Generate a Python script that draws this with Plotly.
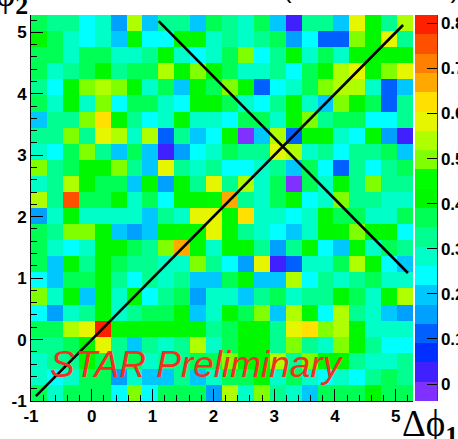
import numpy as np
import plotly.graph_objects as go

# ---------------- data ----------------
TWO_PI = 2 * np.pi
N_BINS = 24
AXIS_MIN = -1.0
AXIS_MAX = AXIS_MIN + TWO_PI
BIN_W = TWO_PI / N_BINS

# correlation values, rows listed from top (dphi2 ~ 5.1) to bottom (dphi2 ~ -0.9)
rows_top_to_bottom = [
    [.37, .33, .33, .24, .28, .15, .54, .20, .33, .33, .20, .37, .33, .28, .37, .20, .03, .33, .33, .20, .58, .41, .33, .54],
    [.41, .37, .28, .24, .28, .20, .41, .24, .24, .41, .41, .28, .33, .28, .33, .37, .15, .24, .11, .11, .50, .41, .58, .33],
    [.37, .37, .28, .37, .37, .28, .28, .33, .41, .28, .24, .28, .37, .50, .24, .33, .41, .28, .37, .28, .41, .41, .41, .41],
    [.37, .28, .33, .37, .41, .33, .37, .37, .54, .41, .50, .41, .37, .28, .28, .33, .24, .37, .41, .54, .58, .41, .50, .58],
    [.33, .24, .41, .50, .54, .50, .41, .28, .37, .20, .41, .37, .50, .41, .11, .24, .28, .37, .50, .54, .54, .28, .11, .20],
    [.37, .28, .41, .28, .50, .24, .37, .37, .28, .24, .41, .41, .37, .28, .24, .33, .41, .28, .20, .50, .41, .37, .11, .33],
    [.20, .33, .33, .50, .62, .41, .33, .24, .28, .41, .28, .28, .24, .37, .37, .28, .41, .50, .33, .37, .37, .24, .24, .33],
    [.33, .33, .50, .33, .58, .54, .28, .54, .11, .33, .20, .24, .41, -.02, .20, .54, .11, .41, .41, .28, .24, .41, .15, .03],
    [.28, .24, .37, .50, .33, .20, .37, .20, .03, .15, .24, .28, .37, .33, .33, .58, .54, .28, .33, .24, .33, .33, .37, .20],
    [.50, .33, .37, .41, .41, .50, .33, .20, .58, .33, .28, .33, .24, .24, .28, .33, .20, .37, .24, .11, .33, .24, .33, .37],
    [.28, .33, .54, .41, .37, .37, .20, .41, .15, .41, .33, .58, .33, .54, .28, .37, -.02, .37, .28, .41, .33, .50, .33, .33],
    [.54, .33, .75, .37, .37, .41, .28, .37, .24, .41, .41, .41, .67, .33, .28, .37, .41, .24, .28, .50, .33, .33, .28, .28],
    [.15, .28, .41, .28, .28, .28, .28, .20, .33, .28, .58, .58, .41, .62, .28, .28, .24, .28, .41, .37, .37, .28, .28, .37],
    [.37, .33, .50, .50, .41, .20, .15, .20, .41, .41, .41, .58, .41, .33, .28, .24, .20, .28, .41, .41, .50, .41, .41, .24],
    [.37, .28, .24, .28, .41, .41, .37, .33, .50, .67, .41, .28, .41, .41, .33, .15, .33, .41, .24, .20, .41, .28, .37, .33],
    [.37, .20, .41, .33, .41, .37, .33, .33, .28, .28, .50, .33, .24, .15, .58, .03, .11, .28, .28, .37, .54, .41, .24, .20],
    [.24, .20, .37, .37, .41, .33, .24, .33, .28, .33, .20, .20, .37, .41, .20, .20, .54, .24, .33, .28, .33, .37, .28, .28],
    [.50, .28, .41, .20, .41, .28, .41, .24, .33, .37, .15, .28, .28, .20, .33, .37, .28, .33, .33, .41, .37, .28, .41, .54],
    [.24, .15, .28, .33, .41, .28, .33, .37, .37, .41, .20, .28, .41, .37, .50, .20, .54, .41, .24, .54, .33, .28, .20, .15],
    [.37, .37, .54, .58, .80, .41, .41, .41, .41, .41, .41, .33, .37, .41, .41, .33, .58, .62, .50, .54, .41, .28, .28, .28],
    [.33, .33, .37, .41, .58, .33, .20, .33, .28, .33, .54, .28, .37, .41, .41, .33, .50, .33, .28, .50, .41, .33, .24, .24],
    [.28, .33, .33, .41, .37, .33, .37, .28, .33, .33, .37, .37, .50, .41, .41, .54, .33, .50, .41, .41, .33, .28, .28, .33],
    [.28, .24, .28, .37, .37, .15, .28, .20, .20, .33, .20, .28, .37, .37, .41, .28, .37, .28, .24, .28, .24, .33, .37, .33],
    [.37, .28, .37, .37, .37, .24, .50, .24, .37, .37, .37, .15, .54, .28, .50, .33, .28, .20, .37, .37, .37, .41, .37, .37],
]

Z_MIN = -0.0377
Z_MAX = 0.8184

# palette bands, bottom to top
band_colors = [
    "#8030FF", "#4020FF", "#0030FF", "#0060FF", "#00A0FF",
    "#00C8FF", "#00FFFF", "#00FFC8", "#00FF90", "#00FF55",
    "#00F800", "#00FF00", "#80FF00", "#B0FF00", "#E6F500",
    "#FFE000", "#FFA800", "#FF8000", "#FF5000", "#FF2000",
]

cbar_tick_vals = [0, 0.1, 0.2, 0.3, 0.4, 0.5, 0.6, 0.7, 0.8]
cbar_tick_text = ["0", "0.1", "0.2", "0.3", "0.4", "0.5", "0.6", "0.7", "0.8"]
axis_tick_vals = [-1, 0, 1, 2, 3, 4, 5]
axis_tick_text = ["-1", "0", "1", "2", "3", "4", "5"]

# guide lines: dphi2 = dphi1 and dphi2 = 2pi - dphi1
diag_x = [-0.92, 5.12]
diag_y = [-0.92, 5.12]
anti_x = [1.10, 5.20]
anti_y = [TWO_PI - 1.10, TWO_PI - 5.20]

# ---------------- figure ----------------
z = rows_top_to_bottom[::-1]

n = len(band_colors)
colorscale = []
for k, c in enumerate(band_colors):
    colorscale.append([k / n, c])
    colorscale.append([(k + 1) / n, c])

W, H = 458, 439
ML, MR, MT, MB = 31, 45, 15, 38
PW = W - ML - MR
PH = H - MT - MB


def px_x(p):
    return (p - ML) / PW


def px_y(p):
    return (H - MB - p) / PH


bold = dict(family="Liberation Sans, Arial, sans-serif", size=17, color="black", weight="bold")

fig = go.Figure()
fig.add_trace(go.Heatmap(
    z=z,
    x0=AXIS_MIN + BIN_W / 2, dx=BIN_W,
    y0=AXIS_MIN + BIN_W / 2, dy=BIN_W,
    zmin=Z_MIN, zmax=Z_MAX,
    colorscale=colorscale,
    hoverinfo="skip",
    colorbar=dict(
        x=px_x(415), xanchor="left", xref="paper",
        y=0.5, yanchor="middle", len=1, lenmode="fraction",
        thickness=22, thicknessmode="pixels",
        xpad=0, ypad=0, outlinewidth=0,
        tickmode="array", tickvals=cbar_tick_vals, ticktext=cbar_tick_text,
        ticks="inside", ticklen=10, tickwidth=1, tickcolor="black",
        tickfont=bold,
    ),
))
fig.add_trace(go.Scatter(x=diag_x, y=diag_y, mode="lines",
                         line=dict(color="black", width=2.6), hoverinfo="skip", showlegend=False))
fig.add_trace(go.Scatter(x=anti_x, y=anti_y, mode="lines",
                         line=dict(color="black", width=2.6), hoverinfo="skip", showlegend=False))

minor_vals = [round(v, 2) for v in np.arange(-1.0, 5.3, 0.2)]
axis_common = dict(
    range=[AXIS_MIN, AXIS_MAX],
    tickmode="array", tickvals=axis_tick_vals, ticktext=axis_tick_text,
    ticks="inside", ticklen=12, tickwidth=1, tickcolor="black",
    minor=dict(tickmode="array", tickvals=minor_vals, ticks="inside", ticklen=6,
               tickwidth=1, tickcolor="black", showgrid=False),
    showgrid=False, zeroline=False,
    showline=True, linecolor="black", linewidth=1,
    tickfont=bold,
)
fig.update_xaxes(**axis_common)
fig.update_yaxes(**axis_common)

title_font = dict(family="Liberation Serif, DejaVu Serif, serif", size=37, color="black")
xt_left = 400
xt_top = 401
fig.add_annotation(text="Δϕ<sub><b>1</b></sub>", xref="paper", yref="paper",
                   x=px_x(xt_left), y=px_y(xt_top), xanchor="left", yanchor="top",
                   showarrow=False, font=title_font)
fig.add_annotation(text="Δϕ<sub><b>2</b></sub>", xref="paper", yref="paper",
                   x=px_x(xt_left - 430), y=px_y(xt_top - 430), xanchor="left", yanchor="top",
                   showarrow=False, font=title_font)
fig.add_annotation(text="(" + "\u00a0" * 22 + ")", xref="paper", yref="paper",
                   x=px_x(371), y=px_y(6), xanchor="center", yanchor="bottom",
                   showarrow=False,
                   font=dict(family="Liberation Sans, Arial, sans-serif", size=26, color="black"))
fig.add_annotation(text="STAR Preliminary", xref="paper", yref="paper",
                   x=px_x(48), y=px_y(364), xanchor="left", yanchor="middle",
                   showarrow=False,
                   font=dict(family="Liberation Sans, Arial, sans-serif", size=37,
                             color="#F03020", style="italic"))

fig.add_shape(type="line", xref="paper", yref="paper",
              x0=px_x(437), x1=px_x(437), y0=0, y1=1,
              line=dict(color="black", width=1.5))

fig.update_layout(
    width=W, height=H,
    margin=dict(l=ML, r=MR, t=MT, b=MB, pad=0, autoexpand=False),
    paper_bgcolor="white", plot_bgcolor="white",
    showlegend=False,
)

fig.write_html("out.html")
